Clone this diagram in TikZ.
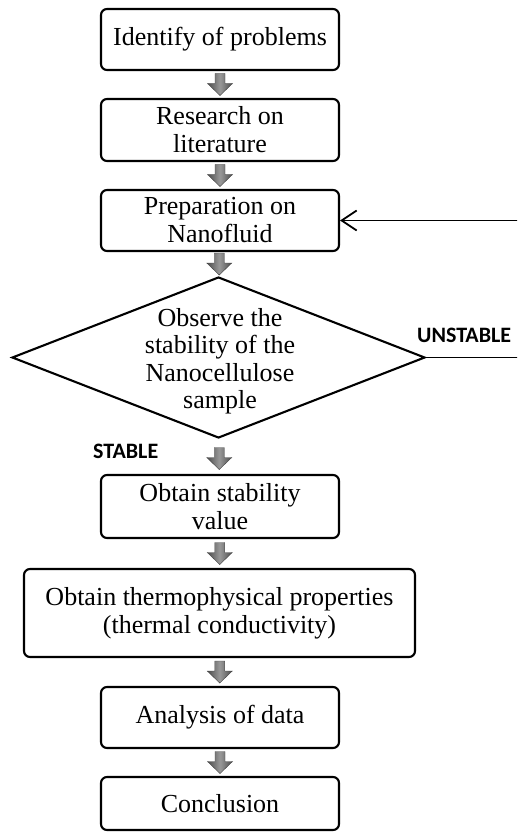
\documentclass[tikz,border=0pt]{standalone}
\usepackage{fontspec}
\setmainfont{Liberation Serif}
\newfontfamily\labelfont{Carlito}
\usetikzlibrary{shapes.geometric,arrows.meta,calc}
\begin{document}
\begin{tikzpicture}[x=1pt,y=-1pt,
  box/.style={draw, line width=2.1pt, rounded corners=6pt, minimum width=238pt,
    align=center, inner sep=0pt, font=\fontsize{26pt}{28pt}\selectfont},
  dtext/.style={align=center, inner sep=0pt, font=\fontsize{26pt}{27.5pt}\selectfont},
  lbl/.style={inner sep=0pt, font=\labelfont\bfseries\fontsize{22pt}{24pt}\selectfont},
  returnline/.style={line width=1.8pt, -{Straight Barb[length=15pt,width=20pt,line width=1.8pt]}},
  barrow/.pic={\path[draw=black!75, line width=0.4pt, left color=black!70, right color=black!70, middle color=black!40]
    (-5,-11) -- (5,-11) -- (5,-1) -- (12.5,-1) -- (0,11) -- (-12.5,-1) -- (-5,-1) -- cycle;}
]
\useasboundingbox (0,0) rectangle (517,834);
\begin{scope}
\clip (0,0) rectangle (517,834);

\node[box, minimum height=61pt] (b1) at (220,39.5) {Identify of problems};
\node[box, minimum height=62pt] (b2) at (220,130) {Research on\\literature};
\node[box, minimum height=61pt] (b3) at (220,220.5) {Preparation on\\Nanofluid};
\node[draw, diamond, line width=2.1pt, minimum width=413pt, minimum height=161pt, inner sep=0pt] (dia) at (218.5,357.5) {};
\node[dtext] (dt) at (220,361) {Observe the\\stability of the\\Nanocellulose\\sample};
\node[box, minimum height=63pt] (b4) at (220,506.5) {Obtain stability\\value};
\node[box, minimum width=391pt, minimum height=88pt] (b5) at (219.5,613) {Obtain thermophysical properties\\(thermal conductivity)};
\node[box, minimum height=61pt] (b6) at (220,717.5) {Analysis of data};
\node[box, minimum height=53pt] (b7) at (220,803.5) {Conclusion};

\node[lbl, anchor=base west] (unst) at (417,342) {UNSTABLE};
\node[lbl, anchor=base west] (st) at (93,458) {STABLE};

\pic at ($(b1.south)!0.5!(b2.north)$) {barrow};
\pic at ($(b2.south)!0.5!(b3.north)$) {barrow};
\pic at ($(b3.south)!0.5!(dia.north)$) {barrow};
\pic at ($(dia.south)!0.5!(b4.north)+(0,2)$) {barrow};
\pic at ($(b4.south)!0.5!(b5.north)$) {barrow};
\pic at ($(b5.south)!0.5!(b6.north)$) {barrow};
\pic at ($(b6.south)!0.5!(b7.north)$) {barrow};

\draw[returnline] (dia.east) -- ++(130,0) |- (b3.east);
\end{scope}
\end{tikzpicture}
\end{document}
